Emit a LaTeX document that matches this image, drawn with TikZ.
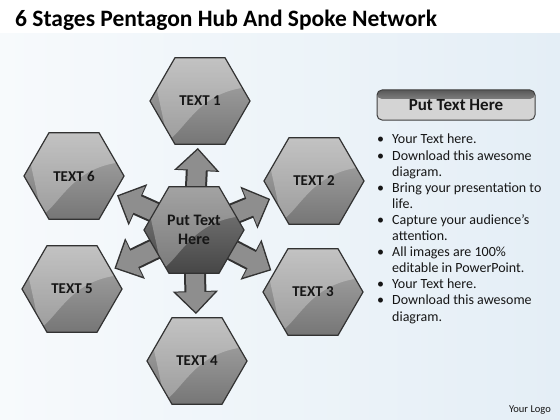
\documentclass[tikz,border=0pt]{standalone}
\usepackage{fontspec}
\setmainfont{Carlito}
\usetikzlibrary{shapes.geometric,arrows.meta,calc}
\definecolor{hexlight}{RGB}{172,172,172}
\definecolor{hexdark}{RGB}{118,118,118}
\definecolor{hublight}{RGB}{128,128,128}
\definecolor{hubdark}{RGB}{70,70,70}
\definecolor{spokegray}{RGB}{142,142,142}
\definecolor{edgegray}{RGB}{50,50,50}
\definecolor{btnfill}{RGB}{212,212,212}
\definecolor{bgleft}{RGB}{247,250,252}
\definecolor{bgright}{RGB}{228,238,246}
\definecolor{txt}{RGB}{22,22,22}
\newcommand\bitem{\makebox[15pt][l]{\textbullet}}
\newcommand\bcont{\hspace*{15pt}}

\begin{document}
\begin{tikzpicture}[x=1pt,y=-1pt,
    gloss/.style={path picture={
        \fill[white,opacity=.28] (path picture bounding box.north west) -- (path picture bounding box.north east)
            -- ($(path picture bounding box.east)+(0,-14)$)
            .. controls ($(path picture bounding box.center)+(0,-10)$) and ($(path picture bounding box.center)+(-12,25)$)
            .. ($(path picture bounding box.west)+(18,40)$) -- cycle;}},
    hexbox/.style={regular polygon, regular polygon sides=6, minimum size=100pt, inner sep=0pt,
        top color=hexlight, bottom color=hexdark, draw=edgegray, line width=1.2pt, gloss,
        font=\fontsize{15}{17}\selectfont\bfseries, text=txt},
    hubbox/.style={hexbox, top color=hublight, bottom color=hubdark, align=center,
        font=\fontsize{16}{19}\selectfont\bfseries},
    spokeedge/.style={draw=edgegray, line width=22pt, -{Triangle[width=44pt,length=23pt]}, shorten >=3pt},
    spoke/.style={draw=spokegray, line width=18pt, -{Triangle[width=38pt,length=20pt]}, shorten >=5pt},
    btn/.style={draw=black!75, line width=1pt, rounded corners=5pt, fill=btnfill,
        minimum width=158pt, minimum height=30pt, text=txt,
        font=\fontsize{17}{20}\selectfont\bfseries,
        path picture={\shade[top color=black!65, bottom color=btnfill]
            (path picture bounding box.north west) rectangle ($(path picture bounding box.north east)+(0,9)$);}}
]
    \fill[white] (0,0) rectangle (560,420);
    \shade[left color=bgleft, right color=bgright] (0,34) rectangle (560,420);

    \node[anchor=base west, inner sep=0pt, text=black, font=\fontsize{23.5}{27}\selectfont\bfseries] (title) at (15,27) {6 Stages Pentagon Hub And Spoke Network};

    \node[hexbox] (t1) at (200,101) {TEXT 1};
    \node[hexbox] (t2) at (314,181) {TEXT 2};
    \node[hexbox] (t3) at (313,292) {TEXT 3};
    \node[hexbox] (t4) at (197,361) {TEXT 4};
    \node[hexbox] (t5) at (72,289) {TEXT 5};
    \node[hexbox] (t6) at (74,176) {TEXT 6};
    \coordinate (hubc) at (194,230);

    \foreach \n in {1,...,6} {
        \draw[spokeedge] (hubc) -- (t\n);
        \draw[spoke] (hubc) -- (t\n);
    }
    \node[hubbox] (hub) at (hubc) {Put Text\\Here};

    \node[btn] (btn) at (456,105) {Put Text Here};
    \node[anchor=north west, inner sep=0pt, align=left, text=txt, font=\fontsize{14}{16.1}\selectfont] (notes) at (377,134) {%
        \bitem Your Text here.\\
        \bitem Download this awesome\\
        \bcont diagram.\\
        \bitem Bring your presentation to\\
        \bcont life.\\
        \bitem Capture your audience’s\\
        \bcont attention.\\
        \bitem All images are 100\%\\
        \bcont editable in PowerPoint.\\
        \bitem Your Text here.\\
        \bitem Download this awesome\\
        \bcont diagram.};
    \node[text=txt, font=\fontsize{10.5}{12}\selectfont] (logo) at (530,410) {Your Logo};
\end{tikzpicture}
\end{document}
